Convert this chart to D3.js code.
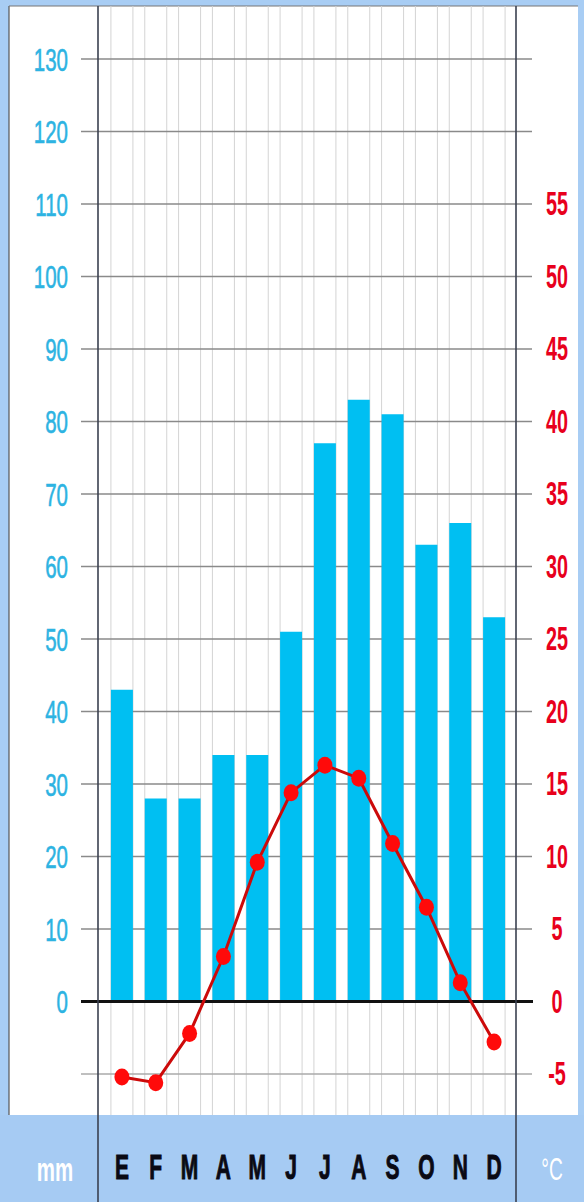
<!DOCTYPE html>
<html><head><meta charset="utf-8">
<script src="https://cdn.jsdelivr.net/npm/d3@7/dist/d3.min.js"></script>
<style>html,body{margin:0;padding:0;background:#a8cdf4;}svg{display:block;}</style>
</head><body>
<svg id="c" width="584" height="1202"></svg>
<script>
const months = ["E","F","M","A","M","J","J","A","S","O","N","D"];
const precip = [43,28,28,34,34,51,77,83,81,63,66,53];
const temp = [-5.2,-5.6,-2.2,3.1,9.6,14.4,16.3,15.4,10.9,6.5,1.3,-2.8];
const mmTicks = [0,10,20,30,40,50,60,70,80,90,100,110,120,130];
const gridTicks = [-10,0,10,20,30,40,50,60,70,80,90,100,110,120,130];
const tempTicks = [-5,0,5,10,15,20,25,30,35,40,45,50,55];

const svg = d3.select("#c");
const FONT = "'Liberation Sans', Arial, sans-serif";
const idx = d3.range(months.length);
const x = d3.scaleBand().domain(idx).range([105,511]).paddingInner(0.35).paddingOuter(0.175);
const y = d3.scaleLinear().domain([-10,130]).range([1074,59]);
const yt = d3.scaleLinear().domain([-5,65]).range([1074,59]);

// background panels
svg.append("rect").attr("x",0).attr("y",0).attr("width",584).attr("height",1202).attr("fill","#a8cdf4");
svg.append("rect").attr("x",9).attr("y",6).attr("width",569).attr("height",1109).attr("fill","#ffffff");
svg.append("line").attr("x1",9).attr("x2",9).attr("y1",6).attr("y2",1115).attr("stroke","#555").attr("stroke-width",1.2);
svg.append("line").attr("x1",9).attr("x2",578).attr("y1",6).attr("y2",6).attr("stroke","#777").attr("stroke-width",1.2);

// vertical light gridlines at bar edges
const vg = svg.append("g");
idx.forEach(i=>{
  [x(i), x(i)+x.bandwidth()].forEach(px=>{
    vg.append("line").attr("x1",px).attr("x2",px).attr("y1",6).attr("y2",1115)
      .attr("stroke","#d4d4d4").attr("stroke-width",1);
  });
});

// horizontal gridlines
svg.append("g").selectAll("line").data(gridTicks.filter(d=>d!==0)).join("line")
  .attr("x1",81).attr("x2",532).attr("y1",d=>y(d)).attr("y2",d=>y(d))
  .attr("stroke",d=>d<0?"#aaa":"#8a8a8a").attr("stroke-width",1.6);

// bars
svg.append("g").selectAll("rect").data(precip).join("rect")
  .attr("x",(d,i)=>x(i)).attr("width",x.bandwidth())
  .attr("y",d=>y(d)).attr("height",d=>y(0)-y(d))
  .attr("fill","#00bff2");

// zero line
svg.append("line").attr("x1",81).attr("x2",533).attr("y1",y(0)).attr("y2",y(0))
  .attr("stroke","#111").attr("stroke-width",3);

// bottom band
svg.append("rect").attr("x",0).attr("y",1115).attr("width",584).attr("height",87).attr("fill","#a6cbf3");

// main vertical axes lines
[98,516].forEach(px=>{
  svg.append("line").attr("x1",px).attr("x2",px).attr("y1",6).attr("y2",1202)
    .attr("stroke","#3a4050").attr("stroke-width",1.6);
});

// temperature line
const cx = i => x(i)+x.bandwidth()/2;
svg.append("path").datum(temp)
  .attr("d", d3.line().x((d,i)=>cx(i)).y(d=>yt(d)))
  .attr("fill","none").attr("stroke","#cc0a0a").attr("stroke-width",3);
svg.append("g").selectAll("ellipse").data(temp).join("ellipse")
  .attr("cx",(d,i)=>cx(i)).attr("cy",d=>yt(d)).attr("rx",7.5).attr("ry",8.5)
  .attr("fill","#ff0a0a");

// left labels
svg.append("g").selectAll("text").data(mmTicks).join("text")
  .attr("transform",d=>`translate(68,${y(d)+11.5}) scale(0.64,1)`)
  .attr("text-anchor","end").attr("font-family",FONT).attr("font-size",32)
  .attr("fill","#2db3e2").attr("stroke","#2db3e2").attr("stroke-width",0.6).text(d=>d);

// right labels
svg.append("g").selectAll("text").data(tempTicks).join("text")
  .attr("transform",d=>`translate(557,${yt(d)+11}) scale(0.6,1)`)
  .attr("text-anchor","middle").attr("font-family",FONT).attr("font-size",33)
  .attr("font-weight","bold").attr("fill","#e8001c").text(d=>d);

// month labels
svg.append("g").selectAll("text").data(months).join("text")
  .attr("transform",(d,i)=>`translate(${cx(i)},1179) scale(0.6,1)`)
  .attr("text-anchor","middle").attr("font-family",FONT).attr("font-size",35)
  .attr("font-weight","bold").attr("fill","#0a0a14").attr("stroke","#0a0a14").attr("stroke-width",1).text(d=>d);

// unit labels
svg.append("text").attr("transform","translate(55,1181) scale(0.62,1)")
  .attr("text-anchor","middle").attr("font-family",FONT).attr("font-size",33)
  .attr("font-weight","bold").attr("fill","#ffffff").text("mm");
svg.append("text").attr("transform","translate(552,1180) scale(0.6,1)")
  .attr("text-anchor","middle").attr("font-family",FONT).attr("font-size",32)
  .attr("fill","#ffffff").text("°C");
</script>
</body></html>
